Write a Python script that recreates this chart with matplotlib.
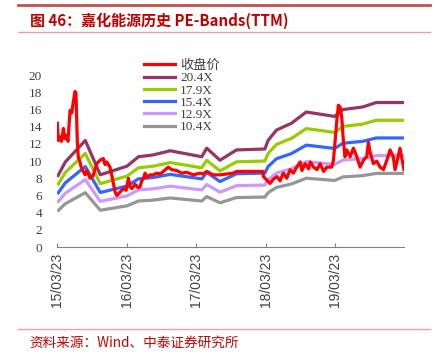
import matplotlib
matplotlib.use("Agg")
import matplotlib.pyplot as plt
import pandas as pd
from matplotlib.lines import Line2D

# close price (red line)
price_dates = [
    "2015-03-23", "2015-03-28", "2015-04-06", "2015-04-14", "2015-04-24", "2015-05-02",
    "2015-05-11", "2015-05-18", "2015-05-29", "2015-06-07", "2015-06-15", "2015-06-24",
    "2015-06-29", "2015-07-06", "2015-07-11", "2015-07-20", "2015-07-28", "2015-08-07",
    "2015-08-16", "2015-08-26", "2015-09-11", "2015-09-27", "2015-10-16", "2015-11-03",
    "2015-11-20", "2015-11-29", "2015-12-08", "2015-12-25", "2016-01-03", "2016-01-12",
    "2016-01-21", "2016-01-30", "2016-02-16", "2016-03-04", "2016-03-19", "2016-03-31",
    "2016-04-09", "2016-04-18", "2016-05-05", "2016-05-21", "2016-05-31", "2016-06-09",
    "2016-06-18", "2016-06-27", "2016-07-06", "2016-07-23", "2016-08-09", "2016-08-27",
    "2016-09-14", "2016-10-01", "2016-10-27", "2016-11-14", "2016-12-10", "2017-01-06",
    "2017-02-01", "2017-03-08", "2017-04-12", "2017-04-29", "2017-05-17", "2017-06-21",
    "2017-07-26", "2017-08-31", "2017-10-04", "2017-10-22", "2017-12-31", "2018-03-10",
    "2018-03-11", "2018-03-29", "2018-04-15", "2018-05-03", "2018-05-21", "2018-06-07",
    "2018-06-24", "2018-07-12", "2018-07-30", "2018-08-16", "2018-09-03", "2018-09-21",
    "2018-09-30", "2018-10-17", "2018-11-04", "2018-11-13", "2018-11-30", "2018-12-18",
    "2019-01-04", "2019-01-22", "2019-02-08", "2019-03-06", "2019-03-15", "2019-03-24",
    "2019-04-02", "2019-04-10", "2019-04-19", "2019-04-28", "2019-05-06", "2019-05-15",
    "2019-05-24", "2019-06-11", "2019-06-28", "2019-07-16", "2019-08-02", "2019-08-20",
    "2019-09-06", "2019-09-15", "2019-09-23", "2019-10-11", "2019-10-29", "2019-11-15",
    "2019-12-03", "2019-12-21", "2020-01-07", "2020-01-24", "2020-02-02", "2020-02-13",
    "2020-02-28", "2020-03-09", "2020-03-20",
]
price = [
    14.4, 12.4, 12.8, 12.3, 13.8, 12.6,
    13.0, 12.3, 15.9, 15.6, 16.9, 18.1,
    17.9, 12.4, 10.5, 9.9, 9.2, 8.8,
    8.4, 8.9, 8.0, 8.3, 9.7, 10.1,
    10.3, 9.6, 9.9, 9.3, 8.4, 7.4,
    6.4, 6.0, 6.4, 6.8, 6.6, 8.0,
    7.0, 6.8, 7.3, 6.9, 7.0, 7.7,
    8.0, 8.6, 8.1, 8.4, 8.4, 8.6,
    8.5, 8.8, 9.3, 9.0, 8.9, 8.6,
    8.7, 8.4, 8.6, 8.5, 8.8, 8.4,
    8.4, 8.5, 8.6, 8.8, 8.8, 8.8,
    8.2, 7.8, 7.4, 7.9, 8.2, 7.7,
    8.6, 8.0, 9.0, 8.6, 9.3, 9.9,
    8.9, 9.7, 9.1, 9.9, 9.3, 9.0,
    9.7, 8.8, 9.3, 9.3, 10.1, 12.4,
    14.8, 16.5, 16.3, 15.0, 12.4, 10.5,
    11.3, 10.5, 11.5, 10.5, 9.3, 10.1,
    10.5, 12.2, 11.1, 9.7, 10.0, 9.3,
    9.0, 10.1, 11.3, 10.5, 9.0, 10.0,
    11.5, 10.3, 9.0,
]

# TTM EPS behind the bands
eps_dates = [
    "2015-03-23", "2015-05-04", "2015-08-17", "2015-11-04", "2016-03-23", "2016-05-23",
    "2016-08-07", "2016-11-06", "2017-04-21", "2017-05-17", "2017-07-26", "2017-10-21",
    "2018-03-19", "2018-04-05", "2018-05-19", "2018-08-06", "2018-10-23", "2019-03-21",
    "2019-05-04", "2019-08-17", "2019-10-26", "2020-03-20",
]
eps = [
    0.400, 0.485, 0.608, 0.412, 0.461, 0.515,
    0.525, 0.549, 0.515, 0.564, 0.495, 0.554,
    0.559, 0.608, 0.667, 0.706, 0.770, 0.745,
    0.784, 0.799, 0.824, 0.824,
]

multiples = [20.4, 17.9, 15.4, 12.9, 10.4]
band_labels = ["20.4X", "17.9X", "15.4X", "12.9X", "10.4X"]
band_colors = ["#953563", "#99CC00", "#3366FF", "#CC99FF", "#969696"]

tick_dates = ["2015-03-23", "2016-03-23", "2017-03-23", "2018-03-23", "2019-03-23"]
tick_labels = ["15/03/23", "16/03/23", "17/03/23", "18/03/23", "19/03/23"]

TITLE_RED = "#C00000"
LINE_RED = "#C0504D"

fig = plt.figure(figsize=(4.41, 3.56), dpi=100)
ax = fig.add_axes([0.130, 0.306, 0.786, 0.483])

pd_price = pd.to_datetime(price_dates)
pd_eps = pd.to_datetime(eps_dates)

for m, c in zip(multiples, band_colors):
    ax.plot(pd_eps, [e * m for e in eps], color=c, lw=2.3, solid_capstyle="butt", zorder=2)
ax.plot(pd_price, price, color="#FF0000", lw=2.3, zorder=3)

ax.set_xlim(pd.Timestamp("2015-03-23"), pd.Timestamp("2020-03-20"))
ax.set_ylim(0, 20)
ax.set_yticks(range(0, 21, 2))
ax.set_xticks(pd.to_datetime(tick_dates))
ax.set_xticklabels(tick_labels, rotation=90, fontsize=10, family="Liberation Sans", color="#404040")
for lab in ax.get_yticklabels():
    lab.set_family("Liberation Serif")
    lab.set_fontsize(9.5)
    lab.set_color("#404040")

for s in ["top", "right", "left"]:
    ax.spines[s].set_visible(False)
ax.spines["bottom"].set_color("#808080")
ax.tick_params(axis="y", length=0, pad=11)
ax.tick_params(axis="x", direction="in", length=3, color="#808080", pad=4)

handles = [Line2D([], [], color="#FF0000", lw=2.3)]
handles += [Line2D([], [], color=c, lw=2.3) for c in band_colors]
leg = fig.legend(handles, ["收盘价"] + band_labels, loc="upper left",
                 bbox_to_anchor=(0.305, 0.858), frameon=False,
                 prop={"family": ["Liberation Serif", "Noto Sans CJK SC"], "size": 9.5},
                 handlelength=2.4, handletextpad=0.35, labelspacing=0.0, borderpad=0.2)
for t in leg.get_texts():
    t.set_color("#404040")

# decorative report frame
fig.add_artist(Line2D([0.041, 0.975], [0.986, 0.986], color=LINE_RED, lw=2.0))
fig.add_artist(Line2D([0.041, 0.975], [0.910, 0.910], color="#E6A0A0", lw=1.0))
fig.add_artist(Line2D([0.041, 0.975], [0.075, 0.075], color="#E6A0A0", lw=1.0))

fig.text(0.068, 0.942, "图 46：嘉化能源历史 PE-Bands(TTM)", color=TITLE_RED,
         fontsize=10.8, fontweight="bold", family=["Noto Sans CJK SC", "DejaVu Sans"], va="center")
fig.text(0.066, 0.036, "资料来源：Wind、中泰证券研究所", color="#D00000",
         fontsize=9.8, family=["Noto Sans CJK SC", "DejaVu Sans"], va="center")

fig.savefig("out.png", dpi=100)
